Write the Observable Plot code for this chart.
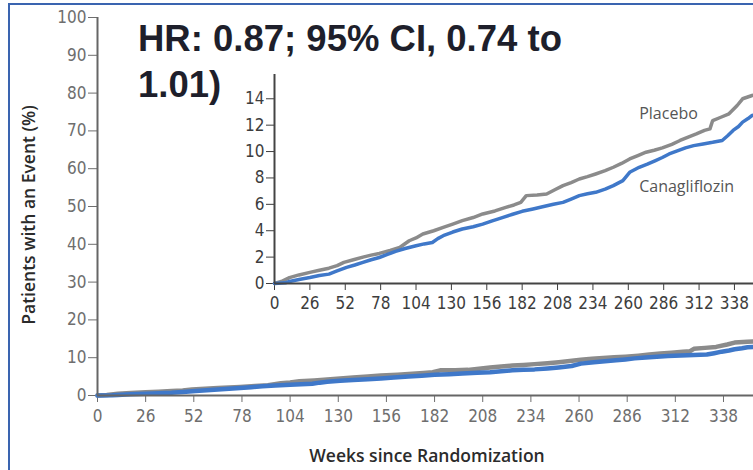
<!DOCTYPE html>
<html><head><meta charset="utf-8">
<script src="https://cdn.jsdelivr.net/npm/d3@7"></script>
<script src="https://cdn.jsdelivr.net/npm/@observablehq/plot@0.6"></script>
<style>
body{margin:0;background:#fff;}
#wrap{position:relative;width:753px;height:470px;overflow:hidden;background:#fff;}
#main{position:absolute;left:0;top:0;}
#inset{position:absolute;left:230px;top:60px;}
#border{position:absolute;left:8px;top:3px;width:900px;height:900px;border-left:2px solid #3a64b0;border-top:2px solid #3a64b0;}
#title{position:absolute;left:138px;top:16px;font-family:"Liberation Sans",Arial,sans-serif;font-weight:bold;font-size:36.5px;line-height:46px;color:#1e1f2b;white-space:nowrap;}
#ylab{position:absolute;left:28px;top:215px;transform:translate(-50%,-50%) rotate(-90deg);font-family:"Open Sans",sans-serif;font-weight:600;font-size:17.5px;color:#2b2b2b;white-space:nowrap;}
#xlab{position:absolute;left:427px;top:455px;transform:translate(-50%,-50%);font-family:"Open Sans",sans-serif;font-weight:600;font-size:17.5px;color:#2b2b2b;white-space:nowrap;}
</style></head><body>
<div id="wrap">
  <div id="main"></div>
  <div id="inset"></div>
  <div id="border"></div>
  <div id="title">HR: 0.87; 95% CI, 0.74 to<br>1.01)</div>
  <div id="ylab">Patients with an Event (%)</div>
  <div id="xlab">Weeks since Randomization</div>
</div>
<script>
const seriesNames = ["Placebo", "Canagliflozin"];
const seriesColors = ["#8b8b8b", "#3f78c9"];
const placeboWeeks = [0, 5, 11, 18, 26, 33, 40, 46, 51, 58, 65, 71, 77, 85, 92, 99, 104, 109, 117, 124, 131, 138, 146, 153, 162, 170, 176, 181, 185, 193, 200, 206, 212, 218, 224, 230, 236, 243, 249, 255, 261, 267, 273, 279, 285, 292, 298, 304, 310, 316, 320, 322, 328, 334, 340, 344, 351, 354];
const placeboPct   = [0, 0.15, 0.45, 0.65, 0.84, 1.0, 1.16, 1.35, 1.6, 1.8, 2.0, 2.15, 2.28, 2.5, 2.73, 3.24, 3.45, 3.75, 4.0, 4.25, 4.5, 4.76, 5.0, 5.27, 5.5, 5.77, 5.95, 6.15, 6.66, 6.7, 6.78, 7.1, 7.42, 7.65, 7.92, 8.1, 8.3, 8.55, 8.81, 9.1, 9.44, 9.7, 9.95, 10.1, 10.28, 10.55, 10.84, 11.1, 11.34, 11.6, 11.72, 12.35, 12.6, 12.86, 13.49, 14.0, 14.25, 14.3];
const canaWeeks = [0, 8, 11, 18, 26, 33, 40, 46, 53, 59, 65, 71, 77, 83, 89, 96, 104, 110, 116, 120, 124, 131, 138, 146, 153, 160, 168, 175, 182, 190, 197, 205, 212, 218, 224, 230, 236, 243, 249, 256, 261, 268, 274, 280, 285, 290, 296, 302, 308, 315, 322, 329, 333, 337, 341, 344, 348, 351, 354];
const canaPct   = [0, 0.05, 0.15, 0.3, 0.45, 0.6, 0.71, 0.95, 1.22, 1.4, 1.6, 1.8, 1.97, 2.2, 2.43, 2.65, 2.86, 3.0, 3.11, 3.4, 3.62, 3.9, 4.13, 4.3, 4.5, 4.75, 5.01, 5.25, 5.47, 5.65, 5.82, 6.0, 6.15, 6.4, 6.66, 6.8, 6.91, 7.15, 7.42, 7.8, 8.43, 8.81, 9.05, 9.32, 9.55, 9.82, 10.05, 10.28, 10.45, 10.58, 10.7, 10.84, 11.2, 11.6, 11.9, 12.23, 12.5, 12.74, 12.8];
const weekTicks = [0, 26, 52, 78, 104, 130, 156, 182, 208, 234, 260, 286, 312, 338];
const mainPctTicks = [0, 10, 20, 30, 40, 50, 60, 70, 80, 90, 100];
const insetPctTicks = [0, 2, 4, 6, 8, 10, 12, 14];
const curveLabels = [
  {name: "Placebo", week: 268, pct: 12.85},
  {name: "Canagliflozin", week: 268, pct: 7.35}
];

const rows = [
  ...placeboWeeks.map((w, i) => ({series: seriesNames[0], week: w, pct: placeboPct[i]})),
  ...canaWeeks.map((w, i) => ({series: seriesNames[1], week: w, pct: canaPct[i]}))
];
const tickFont = '"DejaVu Sans Condensed", sans-serif';

const main = Plot.plot({
  width: 753, height: 470,
  marginLeft: 97, marginRight: 0, marginTop: 17, marginBottom: 75,
  style: {fontFamily: tickFont, fontSize: "17px", color: "#6e6e6e", background: "transparent", overflow: "visible"},
  x: {domain: [0, 354.2], ticks: weekTicks, tickFormat: d => d, tickSize: 7, tickPadding: 7, label: null},
  y: {domain: [0, 100], ticks: mainPctTicks, tickFormat: d => d, tickSize: 9, tickPadding: 2, label: null},
  color: {domain: seriesNames, range: seriesColors},
  marks: [
    Plot.line(rows, {x: "week", y: "pct", z: "series", stroke: "series", strokeWidth: 4.5, curve: "linear"}),
    Plot.ruleX([0], {stroke: "#666", strokeWidth: 2}),
    Plot.ruleY([0], {stroke: "#666", strokeWidth: 2})
  ]
});
document.getElementById("main").appendChild(main);

const inset = Plot.plot({
  width: 523, height: 260,
  marginLeft: 44, marginRight: 0, marginTop: 14, marginBottom: 37,
  style: {fontFamily: tickFont, fontSize: "17px", color: "#3d3d3d", background: "#fff", overflow: "visible"},
  x: {domain: [0, 352], ticks: weekTicks, tickFormat: d => d, tickSize: 7, tickPadding: 6, label: null},
  y: {domain: [0, 15.84], ticks: insetPctTicks, tickFormat: d => d, tickSize: 8, tickPadding: 2, label: null},
  color: {domain: seriesNames, range: seriesColors},
  marks: [
    Plot.line(rows, {x: "week", y: "pct", z: "series", stroke: "series", strokeWidth: 3.5, curve: "linear"}),
    Plot.ruleX([0], {stroke: "#444", strokeWidth: 2}),
    Plot.ruleY([0], {stroke: "#444", strokeWidth: 2}),
    Plot.text(curveLabels, {x: "week", y: "pct", text: "name", textAnchor: "start", fill: "#555", fontSize: 16, fontFamily: '"Open Sans", sans-serif'})
  ]
});
document.getElementById("inset").appendChild(inset);
</script>
</body></html>
